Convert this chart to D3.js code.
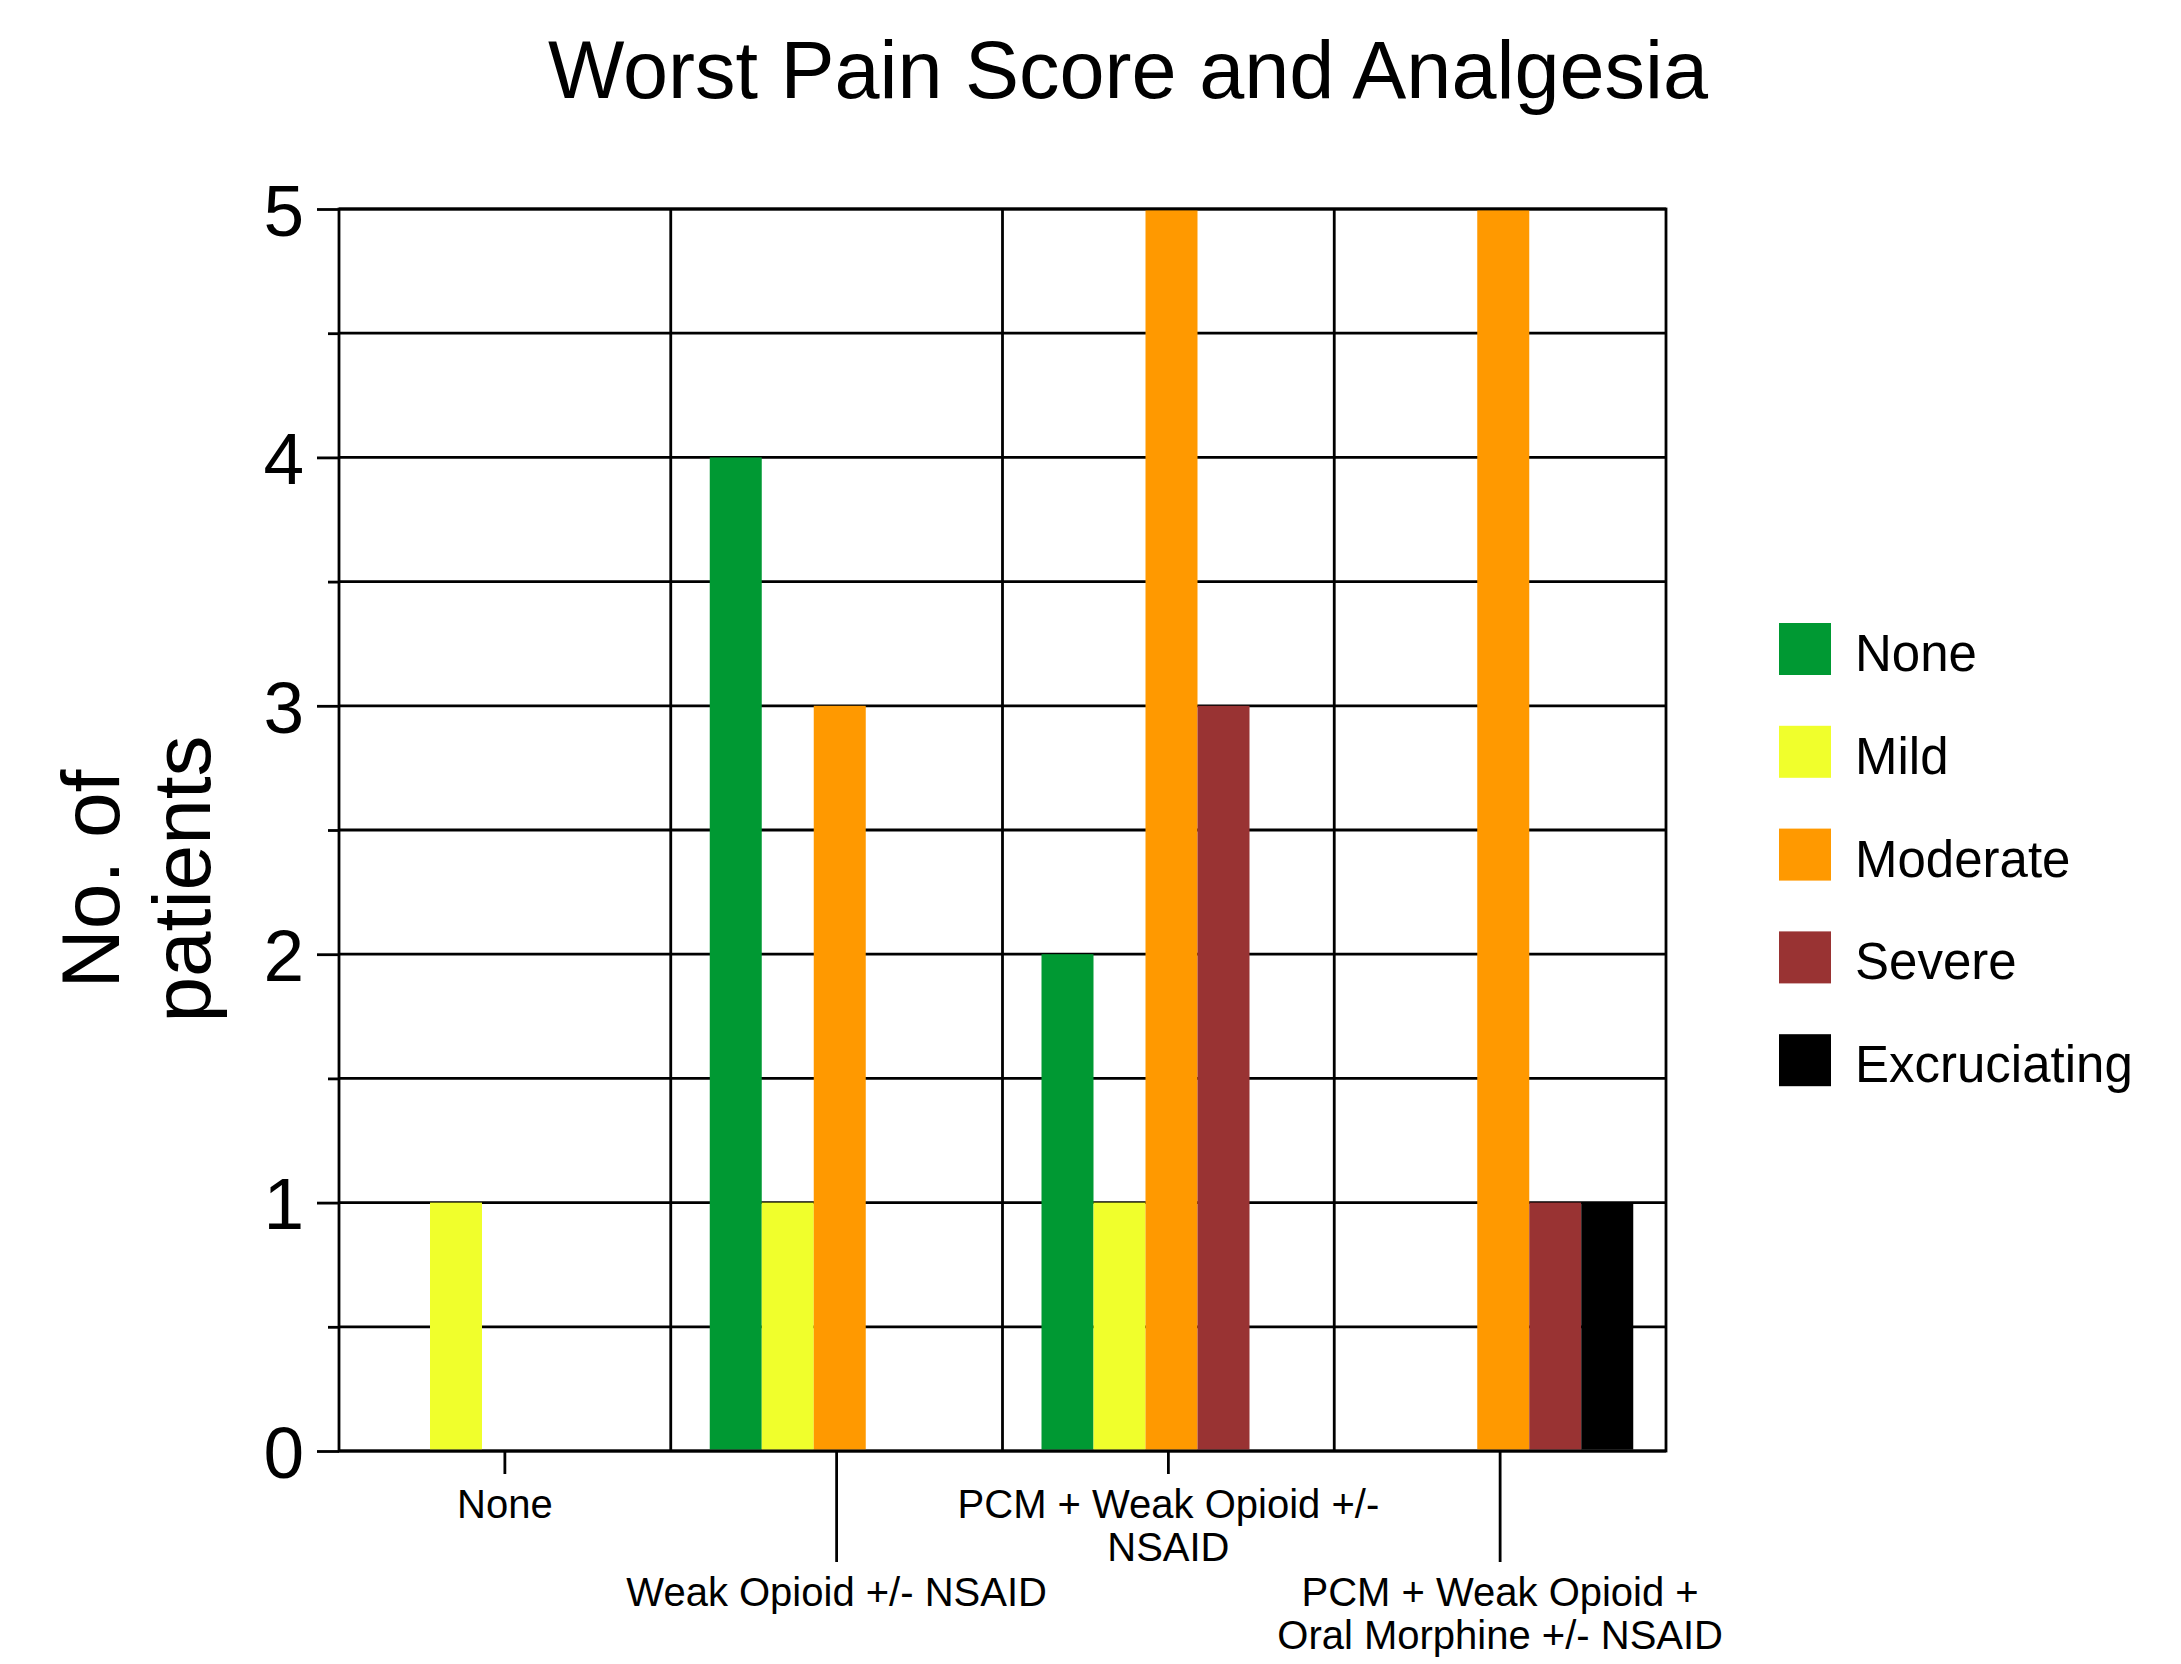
<!DOCTYPE html>
<meta charset="utf-8">
<style>
body { margin: 0; background: #fff; }
text { font-family: "Liberation Sans", Arial, sans-serif; fill: #000; }
.grid line, .frame { stroke: #000; stroke-width: 2.8; fill: none; }
.axis line { stroke: #000; stroke-width: 2.8; }
</style>
<body>
<script src="https://cdn.jsdelivr.net/npm/d3@7/dist/d3.min.js"></script>
<script>

// chart data
var categories = ["None", "Weak Opioid +/- NSAID", "PCM + Weak Opioid +/- NSAID", "PCM + Weak Opioid + Oral Morphine +/- NSAID"];
var series = ["None", "Mild", "Moderate", "Severe", "Excruciating"];
var colors = ["#009933", "#f0ff2c", "#ff9900", "#993333", "#000000"];
var noneVals = [0, 4, 2, 0];
var mildVals = [1, 1, 1, 0];
var moderateVals = [0, 3, 5, 5];
var severeVals = [0, 0, 3, 1];
var excruciatingVals = [0, 0, 0, 1];
var yTicks = [0, 0.5, 1, 1.5, 2, 2.5, 3, 3.5, 4, 4.5, 5];

var allVals = [noneVals, mildVals, moderateVals, severeVals, excruciatingVals];
var table = categories.map(function(c, i) {
  return {cat: c, values: series.map(function(s, j) { return {key: s, value: allVals[j][i], color: colors[j]}; })};
});

var margin = {top: 209, left: 339};
var width = 1327, height = 1242;

var svg = d3.select("body").append("svg")
  .attr("width", 2181)
  .attr("height", 1664);

var g = svg.append("g")
  .attr("transform", "translate(" + margin.left + "," + margin.top + ")");

var x0 = d3.scaleBand().domain(categories).range([0, width]);
var x1 = d3.scaleBand().domain(series).range([39, 299]);
var y = d3.scaleLinear().domain([0, 5]).range([height, 0]);

// horizontal grid every 0.5
g.append("g").attr("class", "grid")
  .selectAll("line").data(yTicks).enter().append("line")
  .attr("x1", 0).attr("x2", width)
  .attr("y1", function(d) { return y(d); })
  .attr("y2", function(d) { return y(d); });

// vertical dividers between groups
g.append("g").attr("class", "grid")
  .selectAll("line").data(categories.slice(1)).enter().append("line")
  .attr("x1", function(d) { return x0(d); })
  .attr("x2", function(d) { return x0(d); })
  .attr("y1", 0).attr("y2", height);

// bars
var groups = g.selectAll(".grp").data(table).enter().append("g")
  .attr("class", "grp")
  .attr("transform", function(d) { return "translate(" + x0(d.cat) + ",0)"; });

groups.selectAll("rect").data(function(d) { return d.values.filter(function(v) { return v.value > 0; }); })
  .enter().append("rect")
  .attr("x", function(d) { return x1(d.key); })
  .attr("width", x1.bandwidth())
  .attr("y", function(d) { return y(d.value); })
  .attr("height", function(d) { return height - y(d.value) - 1.4; })
  .attr("fill", function(d) { return d.color; });

// frame
g.append("rect").attr("class", "frame")
  .attr("x", 0).attr("y", 0).attr("width", width).attr("height", height);

// y axis
var yAxis = d3.axisLeft(y).tickValues(yTicks)
  .tickFormat(function(d) { return Number.isInteger(d) ? d : ""; })
  .tickSizeOuter(0);
var ya = g.append("g").attr("class", "axis").call(yAxis);
ya.select(".domain").remove();
ya.selectAll(".tick line").attr("x2", function(d) { return Number.isInteger(d) ? -22 : -11; });
ya.selectAll(".tick text")
  .attr("x", -35).attr("dy", "0.36em")
  .style("font-size", "73px")
  .style("font-family", "'Liberation Sans', Arial, sans-serif");

// x axis
var xAxis = d3.axisBottom(x0).tickSizeOuter(0).tickFormat("");
var xa = g.append("g").attr("class", "axis")
  .attr("transform", "translate(0," + height + ")")
  .call(xAxis);
xa.select(".domain").remove();
xa.selectAll(".tick line").attr("y2", function(d, i) { return i % 2 ? 111 : 23; });

function wrapLines(str, maxW, size) {
  var tmp = svg.append("text").style("font-size", size + "px");
  var words = str.split(" "), lines = [], cur = "";
  words.forEach(function(w) {
    var test = cur ? cur + " " + w : w;
    tmp.text(test);
    if (tmp.node().getComputedTextLength() > maxW && cur) { lines.push(cur); cur = w; }
    else cur = test;
  });
  lines.push(cur);
  tmp.remove();
  return lines;
}

categories.forEach(function(c, i) {
  var lines = wrapLines(c, 460, 40);
  var t = g.append("text")
    .attr("text-anchor", "middle")
    .style("font-size", "40px")
    .attr("transform", "translate(" + (x0(c) + x0.bandwidth() / 2) + "," + (height + (i % 2 ? 111 : 23) + 44) + ")");
  lines.forEach(function(l, k) {
    t.append("tspan").attr("x", 0).attr("y", k * 43).text(l);
  });
});

// title
svg.append("text")
  .attr("x", 1128).attr("y", 98)
  .attr("text-anchor", "middle")
  .style("font-size", "81px")
  .text("Worst Pain Score and Analgesia");

// y axis title
var yt = svg.append("text")
  .attr("transform", "translate(0,879) rotate(-90)")
  .attr("text-anchor", "middle")
  .style("font-size", "82px");
yt.append("tspan").attr("x", 0).attr("y", 119).text("No. of");
yt.append("tspan").attr("x", 0).attr("y", 210).text("patients");

// legend
var legend = svg.append("g").attr("transform", "translate(1779,623)");
series.forEach(function(s, i) {
  legend.append("rect")
    .attr("x", 0).attr("y", i * 102.8)
    .attr("width", 52).attr("height", 52)
    .attr("fill", colors[i]);
  legend.append("text")
    .attr("x", 76).attr("y", i * 102.8 + 48)
    .style("font-size", "51px")
    .text(s);
});

</script>
</body>
